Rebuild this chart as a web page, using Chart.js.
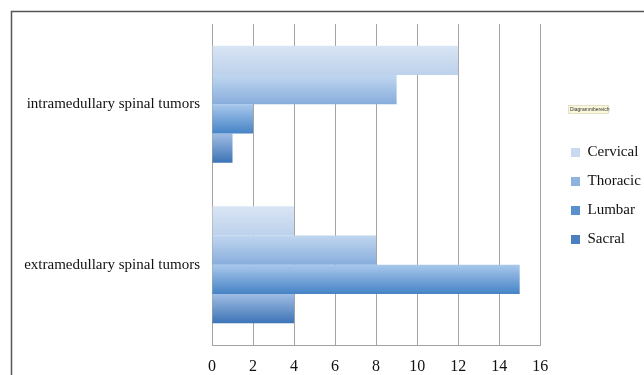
<!DOCTYPE html>
<html><head><meta charset="utf-8">
<script src="https://cdn.jsdelivr.net/npm/chart.js@4/dist/chart.umd.min.js"></script>
<style>html,body{margin:0;padding:0;background:#fff}#wrap{width:644px;height:375px;position:relative}</style>
</head><body><div id="wrap"><canvas id="c" width="644" height="375"></canvas></div>
<script>
const categories = ["intramedullary spinal tumors", "extramedullary spinal tumors"];
const seriesNames = ["Cervical", "Thoracic", "Lumbar", "Sacral"];
const cervical = [12, 4];
const thoracic = [9, 8];
const lumbar = [2, 15];
const sacral = [1, 4];
const xTicks = [0, 2, 4, 6, 8, 10, 12, 14, 16];

const gradStops = [
  ["#d9e5f4", "#bcd1ec"],
  ["#c0d6ef", "#87addd"],
  ["#a9c8ec", "#4583c6"],
  ["#a0bde3", "#3c74b6"]
];
const legendColors = ["#c9daf0", "#8fb3e0", "#5890cf", "#4a7fc0"];

const gradientPlugin = {
  id: 'grad',
  afterUpdate(chart) {
    const L = chart.legend;
    if (L) {
      const w = L.right - L.left;
      L.left = 557; L.right = 557 + w;
      const h = L.bottom - L.top;
      L.top = L.top - 3.5; L.bottom = L.top + h;
    }
  },
  beforeDatasetsDraw(chart) {
    const ctx = chart.ctx;
    chart.data.datasets.forEach((ds, i) => {
      const meta = chart.getDatasetMeta(i);
      meta.data.forEach(bar => {
        const top = bar.y - bar.height / 2, bot = bar.y + bar.height / 2;
        const g = ctx.createLinearGradient(0, top, 0, bot);
        g.addColorStop(0, gradStops[i][0]);
        g.addColorStop(1, gradStops[i][1]);
        bar.options = Object.assign({}, bar.options, {backgroundColor: g});
      });
    });
  }
};

const framePlugin = {
  id: 'frame',
  beforeDraw(chart) {
    const c = chart.ctx;
    c.save();
    c.fillStyle = '#fff';
    c.fillRect(0, 0, chart.width, chart.height);
    c.strokeStyle = '#555';
    c.lineWidth = 1.5;
    c.beginPath();
    c.moveTo(11.5, chart.height);
    c.lineTo(11.5, 11.5);
    c.lineTo(chart.width, 11.5);
    c.stroke();
    c.restore();
  },
  afterDraw(chart) {
    const c = chart.ctx;
    c.save();
    c.fillStyle = '#fbf7dc';
    c.strokeStyle = '#d8d2a8';
    c.lineWidth = 0.6;
    c.fillRect(568.5, 105.5, 40, 8);
    c.strokeRect(568.5, 105.5, 40, 8);
    c.fillStyle = '#333';
    c.font = '5px "Liberation Sans"';
    c.textBaseline = 'middle';
    c.fillText('Diagrammbereich', 570, 109.7);
    c.restore();
  }
};

const series = [cervical, thoracic, lumbar, sacral];
new Chart(document.getElementById('c'), {
  type: 'bar',
  data: {
    labels: categories,
    datasets: seriesNames.map((n, i) => ({
      label: n,
      data: series[i],
      backgroundColor: legendColors[i],
      borderWidth: 0,
      categoryPercentage: 0.73,
      barPercentage: 1.0
    }))
  },
  plugins: [gradientPlugin, framePlugin],
  options: {
    indexAxis: 'y',
    responsive: false,
    animation: false,
    devicePixelRatio: 1,
    layout: {padding: {top: 24, left: 0, right: 10, bottom: 0}},
    scales: {
      x: {
        min: 0, max: 16,
        afterBuildTicks(scale) { scale.ticks = xTicks.map(v => ({value: v})); },
        afterFit(scale) { scale.height = 30; },
        grid: {color: '#a3a3a3', lineWidth: 1, drawTicks: false},
        border: {display: true, color: '#a3a3a3'},
        ticks: {padding: 12, color: '#111', font: {family: '"Liberation Serif", serif', size: 16}}
      },
      y: {
        afterFit(scale) { scale.width = 212; },
        grid: {display: false, drawTicks: false},
        border: {display: true, color: '#a3a3a3'},
        ticks: {padding: 12, color: '#111', font: {family: '"Liberation Serif", serif', size: 15}}
      }
    },
    plugins: {
      tooltip: {enabled: false},
      legend: {
        position: 'right',
        align: 'center',
        labels: {
          boxWidth: 9, boxHeight: 9, padding: 14,
          color: '#111',
          font: {family: '"Liberation Serif", serif', size: 15},
          generateLabels(chart) {
            return chart.data.datasets.map((d, i) => ({
              text: d.label, fillStyle: legendColors[i], strokeStyle: legendColors[i],
              lineWidth: 0, hidden: false, datasetIndex: i, fontColor: '#111'
            }));
          }
        }
      }
    }
  }
});
</script></body></html>
